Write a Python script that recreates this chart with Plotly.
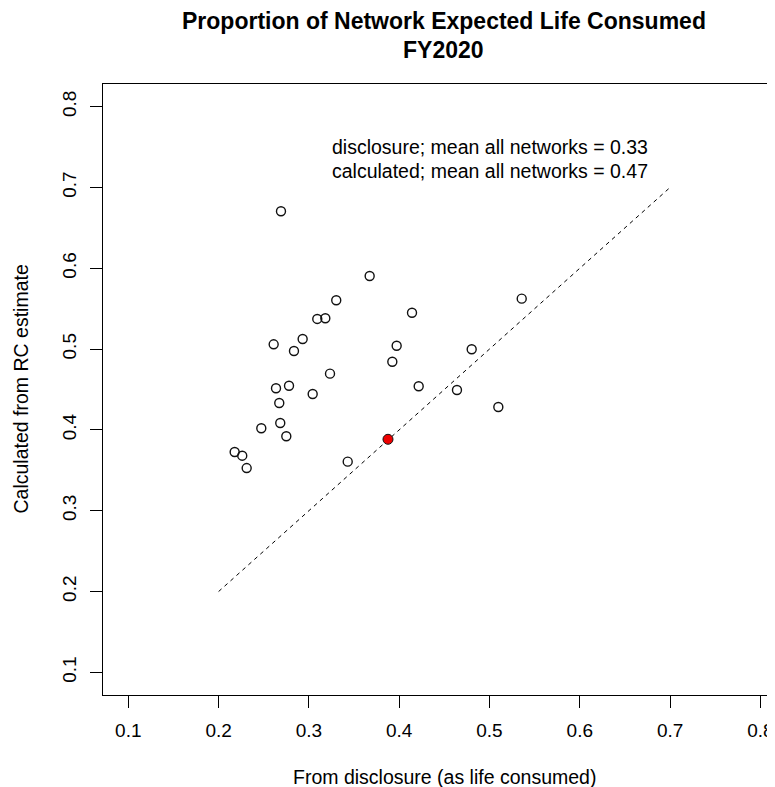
import plotly.graph_objects as go

# Data
disclosure = [0.2691, 0.3673, 0.3303, 0.3093, 0.3182, 0.4142, 0.2931, 0.2610,
              0.2835, 0.3972, 0.3924, 0.3234, 0.2636, 0.2780, 0.3042, 0.4216,
              0.2672, 0.2473, 0.2683, 0.2750, 0.2178, 0.2262, 0.2311, 0.3430,
              0.5357, 0.4803, 0.4640, 0.5098]
calculated = [0.6705, 0.5905, 0.5604, 0.5373, 0.5381, 0.5450, 0.5125, 0.5059,
              0.4976, 0.5042, 0.4844, 0.4696, 0.4515, 0.4547, 0.4444, 0.4540,
              0.4333, 0.4020, 0.4085, 0.3921, 0.3726, 0.3681, 0.3528, 0.3607,
              0.5624, 0.4998, 0.4494, 0.4283]
highlight_x = [0.3876]
highlight_y = [0.3884]
ref_line = [0.2, 0.7]
tick_vals = [0.1, 0.2, 0.3, 0.4, 0.5, 0.6, 0.7, 0.8]
tick_text = ["0.1", "0.2", "0.3", "0.4", "0.5", "0.6", "0.7", "0.8"]

title_lines = ["Proportion of Network Expected Life Consumed", "FY2020"]
x_label = "From disclosure (as life consumed)"
y_label = "Calculated from RC estimate"
note_lines = ["disclosure; mean all networks = 0.33",
              "calculated; mean all networks = 0.47"]

FONT = "Liberation Sans, Arial, Helvetica, sans-serif"

OFF = 8  # page body margin
W, H = 775 - OFF, 787 - OFF
ML, MT = 103 - OFF, 84 - OFF
PW = 775 - 103
PH = 695 - 84
MR = W - ML - PW
MB = H - MT - PH


def px_x(p):
    return (p - OFF - ML) / PW


def px_y(p):
    return (MT + PH - (p - OFF)) / PH


fig = go.Figure()
fig.add_trace(go.Scatter(x=ref_line, y=ref_line, mode="lines",
                         line=dict(color="black", width=1, dash="4px,4px"),
                         hoverinfo="skip", showlegend=False))
fig.add_trace(go.Scatter(x=disclosure, y=calculated, mode="markers",
                         marker=dict(symbol="circle-open", size=9, color="#111111",
                                     line=dict(width=1.4, color="#111111")),
                         showlegend=False))
fig.add_trace(go.Scatter(x=highlight_x, y=highlight_y, mode="markers",
                         marker=dict(symbol="circle", size=10, color="#ee0000",
                                     line=dict(width=1, color="#111111")),
                         showlegend=False))

annotations = []
annotations.append(dict(text="<b>%s</b>" % title_lines[0], xref="paper", yref="paper",
                        x=px_x(443.5), y=px_y(21), xanchor="center", yanchor="middle",
                        showarrow=False, font=dict(family=FONT, size=23, color="black")))
annotations.append(dict(text="<b>%s</b>" % title_lines[1], xref="paper", yref="paper",
                        x=px_x(443.5), y=px_y(50), xanchor="center", yanchor="middle",
                        showarrow=False, font=dict(family=FONT, size=23, color="black")))
annotations.append(dict(text=x_label, xref="paper", yref="paper",
                        x=px_x(444), y=px_y(777), xanchor="center", yanchor="middle",
                        showarrow=False, font=dict(family=FONT, size=19.5, color="black")))
annotations.append(dict(text=y_label, xref="paper", yref="paper", textangle=-90,
                        x=px_x(20), y=px_y(389.5), xanchor="center", yanchor="middle",
                        showarrow=False, font=dict(family=FONT, size=19.5, color="black")))
for i, line in enumerate(note_lines):
    annotations.append(dict(text=line, xref="paper", yref="paper",
                            x=px_x(330), y=px_y(147 + 23.5 * i), xanchor="left",
                            yanchor="middle", showarrow=False,
                            font=dict(family=FONT, size=19.5, color="black")))

fig.update_layout(
    width=W, height=H,
    margin=dict(l=ML, r=MR, t=MT, b=MB, pad=0),
    paper_bgcolor="white", plot_bgcolor="white",
    font=dict(family=FONT, color="black"),
    annotations=annotations,
    showlegend=False,
)
fig.update_xaxes(range=[0.072, 0.072 + PW / 903.0], tickvals=tick_vals, ticktext=tick_text,
                 showgrid=False, zeroline=False, showline=True, linecolor="black",
                 linewidth=1, mirror=True, ticks="outside", ticklen=12, tickwidth=1,
                 tickcolor="black", tickfont=dict(family=FONT, size=19), ticklabelstandoff=6)
fig.update_yaxes(range=[0.072, 0.828], tickvals=tick_vals, ticktext=tick_text,
                 showgrid=False, zeroline=False, showline=True, linecolor="black",
                 linewidth=1, mirror=False, ticks="outside", ticklen=12, tickwidth=1,
                 tickcolor="black", tickangle=-90, tickfont=dict(family=FONT, size=19),
                 ticklabelstandoff=6)

fig.write_html("out.html")
